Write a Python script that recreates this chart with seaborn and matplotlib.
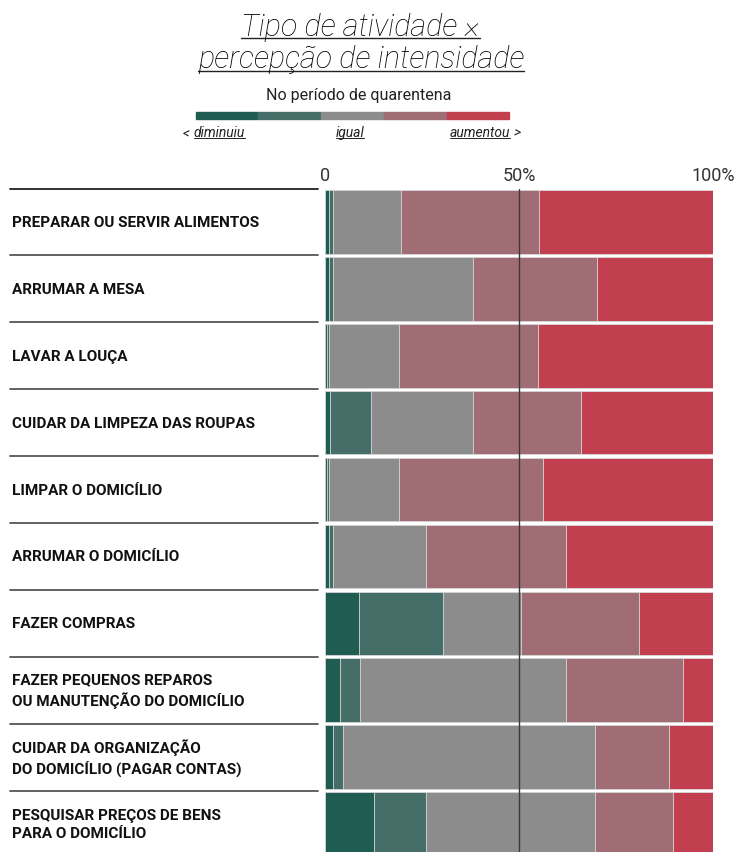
import numpy as np
import pandas as pd
import seaborn as sns
import matplotlib.pyplot as plt
from matplotlib.lines import Line2D
from matplotlib.patches import Rectangle
from matplotlib.transforms import blended_transform_factory

sns.set_style("white")
plt.rcParams['font.family'] = ['Roboto', 'DejaVu Sans']

atividades = [
    "PREPARAR OU SERVIR ALIMENTOS",
    "ARRUMAR A MESA",
    "LAVAR A LOUÇA",
    "CUIDAR DA LIMPEZA DAS ROUPAS",
    "LIMPAR O DOMICÍLIO",
    "ARRUMAR O DOMICÍLIO",
    "FAZER COMPRAS",
    "FAZER PEQUENOS REPAROS\nOU MANUTENÇÃO DO DOMICÍLIO",
    "CUIDAR DA ORGANIZAÇÃO\nDO DOMICÍLIO (PAGAR CONTAS)",
    "PESQUISAR PREÇOS DE BENS\nPARA O DOMICÍLIO",
]
diminuiu_muito = [1.0, 1.0, 0.5, 1.3, 0.5, 1.0, 8.8, 3.9, 2.0, 12.5]
diminuiu = [1.1, 1.0, 0.5, 10.6, 0.5, 1.0, 21.6, 5.0, 2.6, 13.5]
igual = [17.5, 36.1, 18.0, 26.2, 18.0, 24.0, 20.0, 53.1, 65.0, 43.6]
aumentou = [35.6, 32.0, 36.0, 27.8, 37.1, 36.1, 30.6, 30.2, 19.1, 20.0]
aumentou_muito = [44.8, 30.0, 45.0, 34.0, 43.9, 37.9, 19.0, 7.8, 11.3, 10.4]

niveis = ["diminuiu_muito", "diminuiu", "igual", "aumentou", "aumentou_muito"]
cores = ["#1f5d53", "#456e68", "#8c8c8c", "#a06d75", "#c23f50"]

df = pd.DataFrame({
    "atividade": atividades,
    "diminuiu_muito": diminuiu_muito,
    "diminuiu": diminuiu,
    "igual": igual,
    "aumentou": aumentou,
    "aumentou_muito": aumentou_muito,
})
tot = df[niveis].sum(axis=1)
for n in niveis:
    df[n] = df[n] / tot * 100
cum = df[niveis].cumsum(axis=1)
for n in niveis:
    df["cum_" + n] = cum[n]

W, H = 738, 853
fig = plt.figure(figsize=(W / 100, H / 100), dpi=100)

# main axes
top_px, row_px = 189.5, 66.9
ax = fig.add_axes([325 / W, 1 - (top_px + 10 * row_px) / H, 388 / W, 10 * row_px / H])

# stacked bars: draw cumulative totals from the right end back
for n, c in reversed(list(zip(niveis, cores))):
    sns.barplot(data=df, x="cum_" + n, y="atividade", color=c, saturation=1,
                width=0.95, errorbar=None, orient="h", ax=ax, zorder=2,
                linewidth=0.6, edgecolor="#d9d9d9")

ax.set_xlim(0, 100)
ax.set_ylim(9.5, -0.5)
ax.axvline(50, color="#3a3a3a", lw=1.0, zorder=5)
for s in ax.spines.values():
    s.set_visible(False)
ax.xaxis.tick_top()
ax.set_xticks([0, 50, 100])
ax.set_xticklabels(["0", "50%", "100%"], fontsize=13, fontweight="normal", color="#333333")
ax.tick_params(axis="x", length=0, pad=3.5)
ax.set_yticks([])
ax.set_xlabel("")
ax.set_ylabel("")

# row labels and separators on the left
tr = blended_transform_factory(fig.transFigure, ax.transData)
for i, a in enumerate(atividades):
    ax.text(12 / W, i, a, transform=tr, ha="left", va="center", fontsize=11,
            fontweight="bold", color="#111111", linespacing=1.4)
    ax.add_line(Line2D([10 / W, 318 / W], [i - 0.5, i - 0.5], transform=tr,
                       color="#222222" if i == 0 else "#555555", lw=1.3, clip_on=False))

# title
def px(y):
    return 1 - y / H

t1 = fig.text(360.5 / W, px(36), "Tipo de atividade ×", ha="center", va="baseline",
              fontsize=22, fontstyle="italic", fontweight="light", color="#000000")
t2 = fig.text(361 / W, px(68), "percepção de intensidade", ha="center", va="baseline",
              fontsize=22, fontstyle="italic", fontweight="light", color="#000000")
fig.text(358.5 / W, px(100), "No período de quarentena", ha="center", va="baseline",
         fontsize=11.5, color="#222222")

# legend bar
seg = (509.3 - 195.7) / 5
for k, c in enumerate(cores):
    fig.patches.append(Rectangle(((195.7 + k * seg) / W, px(120)), seg / W, 7 / H,
                                 transform=fig.transFigure, color=c))

fs = 10
fig.text(183 / W, px(137), "<", ha="left", va="baseline", fontsize=fs,
         fontstyle="italic", color="#222222")
l_dim = fig.text(194 / W, px(137), "diminuiu", ha="left", va="baseline", fontsize=fs,
                 fontstyle="italic", color="#222222")
l_ig = fig.text(350 / W, px(137), "igual", ha="center", va="baseline", fontsize=fs,
                fontstyle="italic", color="#222222")
fig.text(521 / W, px(137), ">", ha="right", va="baseline", fontsize=fs,
         fontstyle="italic", color="#222222")
l_aum = fig.text(510 / W, px(137), "aumentou", ha="right", va="baseline", fontsize=fs,
                 fontstyle="italic", color="#222222")

fig.canvas.draw()
r = fig.canvas.get_renderer()
for t, y, lw in [(t1, 38.5, 1.0), (t2, 71.5, 1.0), (l_dim, 139, 0.7),
                 (l_ig, 139, 0.7), (l_aum, 139, 0.7)]:
    bb = t.get_window_extent(r)
    fig.lines.append(Line2D([bb.x0 / W, bb.x1 / W], [px(y), px(y)],
                            transform=fig.transFigure, color="#222222", lw=lw))

fig.savefig("out.png", dpi=100)
